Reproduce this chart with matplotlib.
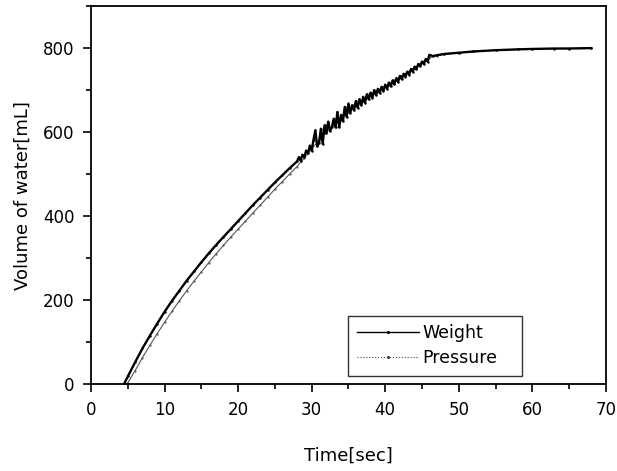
import numpy as np
import matplotlib
matplotlib.use("Agg")
import matplotlib.pyplot as plt
from matplotlib.ticker import MultipleLocator
from matplotlib.lines import Line2D

# ---- data ----
weight_time = [4.5, 5, 6, 7, 8, 9, 10, 11, 12, 13, 14, 15, 16, 17, 18, 19, 20, 21, 22, 23, 24, 25, 26, 27,
               28.00, 28.25, 28.50, 28.75,
               29.00, 29.25, 29.50, 29.75,
               30.00, 30.25, 30.50, 30.75,
               31.00, 31.25, 31.50, 31.75,
               32.00, 32.25, 32.50, 32.75,
               33.00, 33.25, 33.50, 33.75,
               34.00, 34.25, 34.50, 34.75,
               35.00, 35.25, 35.50, 35.75,
               36.00, 36.25, 36.50, 36.75,
               37.00, 37.25, 37.50, 37.75,
               38.00, 38.25, 38.50, 38.75,
               39.00, 39.25, 39.50, 39.75,
               40.00, 40.25, 40.50, 40.75,
               41.00, 41.25, 41.50, 41.75,
               42.00, 42.25, 42.50, 42.75,
               43.00, 43.25, 43.50, 43.75,
               44.00, 44.25, 44.50, 44.75,
               45.00, 45.25, 45.50, 45.75,
               46.00, 46.5, 47, 48, 50, 52, 55, 58, 60, 63, 65, 68]
weight_vol = [0, 18, 52, 85, 115, 144, 172, 198, 222, 246, 268, 290, 311, 331, 350, 369, 388, 407, 426, 444, 462, 480, 497, 514,
              530, 540, 532, 546,
              541, 556, 549, 568,
              556, 582, 604, 566,
              575, 608, 572, 616,
              598, 625, 603, 612,
              632, 611, 648, 612,
              641, 626, 660, 636,
              668, 646, 664, 652,
              674, 658, 678, 664,
              684, 670, 690, 678,
              694, 682, 700, 688,
              703, 693, 708, 698,
              713, 703, 718, 709,
              723, 714, 728, 720,
              734, 726, 739, 732,
              744, 737, 750, 744,
              756, 750, 762, 757,
              768, 762, 774, 768,
              784, 781, 783, 786, 789, 792, 795, 797, 798, 799, 799, 800]

pressure_time = [4.9, 5, 6, 7, 8, 9, 10, 11, 12, 13, 14, 15, 16, 17, 18, 19, 20, 21, 22, 23, 24, 25, 26, 27,
                 28, 29, 30, 31, 32, 33, 34, 35, 36, 37, 38, 39, 40, 41, 42, 43, 44, 45, 46, 47, 48, 50,
                 55, 60, 68]
pressure_vol = [0, 3, 32, 63, 92, 120, 147, 173, 198, 222, 245, 267, 289, 310, 330, 350, 369, 388, 407, 426, 445, 464, 482, 500,
                518, 538, 560, 580, 599, 616, 632, 647, 661, 674, 686, 698, 709, 720, 731, 742, 754, 766, 777, 782, 785, 789,
                795, 798, 800]

x_ticks = [0, 10, 20, 30, 40, 50, 60, 70]
y_ticks = [0, 200, 400, 600, 800]

# ---- figure ----
fig = plt.figure(figsize=(6.17, 4.71), dpi=100)
ax = fig.add_axes([0.1475, 0.1847, 0.8345, 0.8023])

ax.plot(pressure_time, pressure_vol, color="#555555", lw=0.8, ls="-",
        marker=".", markersize=1.2, label="Pressure", zorder=2)
ax.plot(weight_time, weight_vol, color="black", lw=1.7, ls="-",
        marker=".", markersize=1.5, label="Weight", zorder=3)

ax.set_xlim(0, 70)
ax.set_ylim(0, 900)
ax.set_xticks(x_ticks)
ax.set_yticks(y_ticks)
ax.xaxis.set_minor_locator(MultipleLocator(5))
ax.yaxis.set_minor_locator(MultipleLocator(100))
ax.tick_params(which="both", direction="out", width=1.2, labelsize=12, top=False, right=False)
ax.tick_params(which="major", length=6, pad=6)
ax.tick_params(which="minor", length=3.5)
for s in ax.spines.values():
    s.set_linewidth(1.3)

ax.set_xlabel("Time[sec]", fontsize=13, labelpad=20)
ax.set_ylabel("Volume of water[mL]", fontsize=13, labelpad=8)

h_w = Line2D([], [], color="black", lw=1.0, ls="-", marker=".", markersize=2.5)
h_p = Line2D([], [], color="#444444", lw=0.8, ls=":", marker=".", markersize=2.5)
leg = ax.legend([h_w, h_p], ["Weight", "Pressure"], loc="lower left",
                bbox_to_anchor=(0.499, 0.021, 0.338, 0.167), mode="expand",
                fontsize=12.5, handlelength=3.6, handletextpad=0.2,
                labelspacing=0.4, borderpad=0.5, frameon=True, fancybox=False,
                numpoints=1, borderaxespad=0)
leg.get_frame().set_edgecolor("black")
leg.get_frame().set_linewidth(1.0)

fig.savefig("out.png", dpi=100)
